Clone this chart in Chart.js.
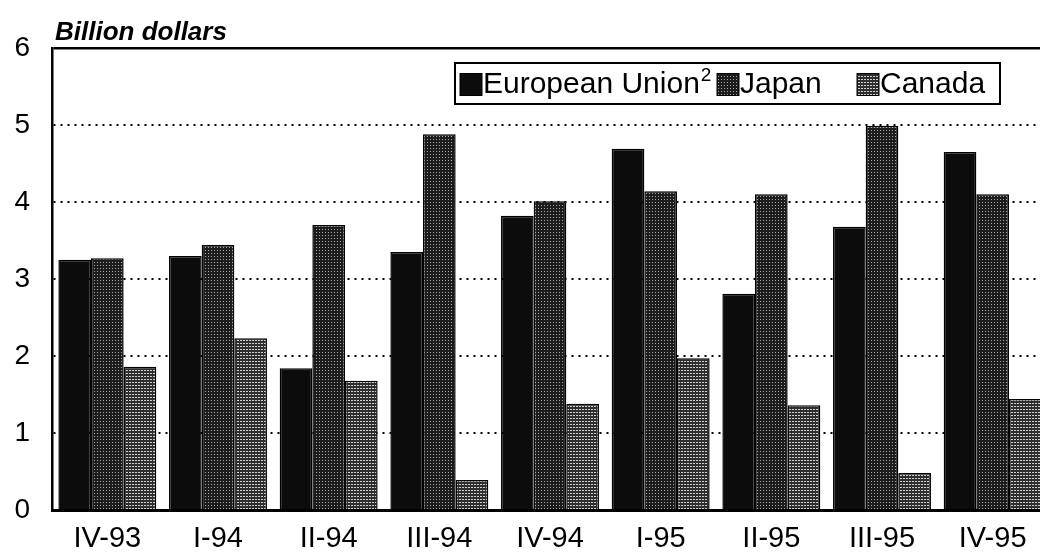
<!DOCTYPE html>
<html>
<head>
<meta charset="utf-8">
<script src="https://cdn.jsdelivr.net/npm/chart.js@4.4.1/dist/chart.umd.min.js"></script>
<style>
  html, body { margin: 0; background: #fff; overflow: hidden; }
  #wrap { width: 1040px; height: 553px; overflow: hidden; }
</style>
</head>
<body>
<div id="wrap"><canvas id="imports" width="1048" height="553"></canvas></div>
<script>
const quarters = ["IV-93", "I-94", "II-94", "III-94", "IV-94", "I-95", "II-95", "III-95", "IV-95"];
const euValues = [3.25, 3.30, 1.84, 3.35, 3.82, 4.69, 2.81, 3.68, 4.65];
const japanValues = [3.27, 3.44, 3.70, 4.88, 4.01, 4.14, 4.10, 4.99, 4.10];
const canadaValues = [1.86, 2.23, 1.68, 0.39, 1.38, 1.97, 1.36, 0.48, 1.44];
const yTicks = [0, 1, 2, 3, 4, 5, 6];

const fontName = "'Liberation Sans', Arial, Helvetica, sans-serif";

// little tiles to mimic the screened fills of the print
function makePattern(base, light, kind) {
  const c = document.createElement('canvas');
  c.width = 3; c.height = 3;
  const g = c.getContext('2d');
  g.fillStyle = base;
  g.fillRect(0, 0, 3, 3);
  g.fillStyle = light;
  if (kind === 'dots') {
    g.fillRect(1, 1, 1, 1);
  } else {
    g.fillRect(0, 1, 2, 1);
  }
  return g.createPattern(c, 'repeat');
}

const euFill = '#0c0c0c';
const japanFill = makePattern('#1c1c1c', '#a8a8a8', 'dots');
const canadaFill = makePattern('#2e2e2e', '#d0d0d0', 'lines');

const legendBox = {x: 455, y: 63, w: 545, h: 41};
const legendSlots = [5, 262, 402];

const titlePlugin = {
  id: 'unitTitle',
  afterDraw(chart) {
    const ctx = chart.ctx;
    ctx.save();
    ctx.fillStyle = '#000';
    ctx.font = "italic bold 26px " + fontName;
    ctx.textBaseline = 'alphabetic';
    ctx.fillText('Billion dollars', 55, 40);
    ctx.restore();
  }
};

const boxLegend = {
  id: 'boxLegend',
  afterDatasetsDraw(chart) {
    const ctx = chart.ctx;
    const b = legendBox;
    ctx.save();
    ctx.fillStyle = '#fff';
    ctx.fillRect(b.x, b.y, b.w, b.h);
    ctx.lineWidth = 2;
    ctx.strokeStyle = '#000';
    ctx.strokeRect(b.x, b.y, b.w, b.h);
    ctx.textBaseline = 'middle';
    const midY = b.y + b.h / 2 + 1;
    chart.data.datasets.forEach((ds, i) => {
      let x = b.x + legendSlots[i];
      ctx.fillStyle = ds.backgroundColor;
      ctx.fillRect(x, midY - 11, 22, 22);
      ctx.lineWidth = 1;
      ctx.strokeRect(x, midY - 11, 22, 22);
      x += 23;
      ctx.fillStyle = '#000';
      ctx.font = "30px " + fontName;
      ctx.fillText(ds.label, x, midY);
      x += ctx.measureText(ds.label).width;
      if (ds.note) {
        ctx.font = "19px " + fontName;
        ctx.fillText(ds.note, x + 1, midY - 9);
      }
    });
    ctx.restore();
  }
};

const config = {
  type: 'bar',
  data: {
    labels: quarters,
    datasets: [
      {label: 'European Union', note: '2', data: euValues, backgroundColor: euFill},
      {label: 'Japan', data: japanValues, backgroundColor: japanFill},
      {label: 'Canada', data: canadaValues, backgroundColor: canadaFill}
    ]
  },
  options: {
    responsive: false,
    animation: false,
    layout: {padding: {top: 48, right: 0, left: 0, bottom: 0}},
    datasets: {
      bar: {
        categoryPercentage: 0.885,
        barPercentage: 1.0,
        borderColor: '#000',
        borderWidth: 1.5,
        borderSkipped: 'bottom'
      }
    },
    plugins: {
      legend: {display: false},
      tooltip: {enabled: false},
      title: {display: false}
    },
    scales: {
      x: {
        grid: {display: false},
        border: {display: true, color: '#000', width: 3},
        ticks: {
          color: '#000',
          padding: 4,
          font: {family: fontName, size: 29}
        },
        afterFit(scale) { scale.height = 43; }
      },
      y: {
        min: 0,
        max: 6,
        afterBuildTicks(scale) {
          scale.ticks = yTicks.map(v => ({value: v}));
        },
        grid: {
          drawTicks: false,
          color: (ctx) => ctx.tick && ctx.tick.value === 0 ? 'rgba(0,0,0,0)' : '#000',
          lineWidth: (ctx) => ctx.tick && ctx.tick.value === 6 ? 2.5 : 2
        },
        border: {
          display: true,
          color: '#000',
          width: 2.5,
          dash: (ctx) => ctx.tick && ctx.tick.value === 6 ? [] : [2, 5]
        },
        ticks: {
          color: '#000',
          padding: 22,
          font: {family: fontName, size: 28}
        },
        afterFit(scale) { scale.width = 52; }
      }
    }
  },
  plugins: [titlePlugin, boxLegend]
};

const importsChart = new Chart(document.getElementById('imports'), config);
</script>
</body>
</html>
